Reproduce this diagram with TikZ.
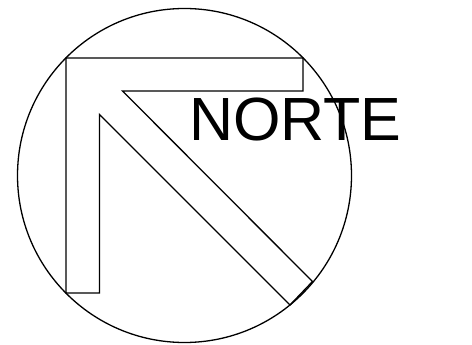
\documentclass[tikz,border=0pt]{standalone}
\usepackage{fontspec}
\setmainfont{Liberation Sans}
\usetikzlibrary{positioning,calc}

\begin{document}
\begin{tikzpicture}[
    x=1pt, y=-1pt,
    outline/.style={draw=black, line width=1.3pt, line join=miter},
    label/.style={inner sep=0pt, anchor=base west, font=\fontsize{61}{61}\selectfont},
]
    \useasboundingbox (0,0) rectangle (472,345);

    % Compass circle
    \coordinate (centre) at (184.5,175.5);
    \draw[outline] (centre) circle[radius=167];

    % Arrow pointing north-west
    \coordinate (tl) at (66,58);
    \coordinate (tr) at (303,58);
    \coordinate (trb) at (303,91);
    \coordinate (inner) at (122.5,91);
    \coordinate (tipa) at (312.5,281.5);
    \coordinate (tipb) at (290,305);
    \coordinate (innerb) at (99.5,114.5);
    \coordinate (br) at (99.5,293);
    \coordinate (bl) at (66,293);
    \draw[outline] (tl) -- (tr) -- (trb) -- (inner) -- (tipa) -- (tipb)
        -- (innerb) -- (br) -- (bl) -- cycle;

    % Label
    \node[label] (norte) at (189,140.5) {NORTE};
\end{tikzpicture}
\end{document}
